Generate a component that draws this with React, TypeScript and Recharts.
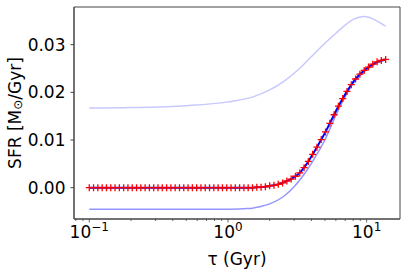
import React from 'react'
import { LineChart, Line, XAxis, YAxis, Label, ReferenceArea } from 'recharts'

// lookback time grid (Gyr), log spaced as in the figure
const tau = [
  0.1, 0.1074, 0.1153, 0.1239, 0.133, 0.1429, 0.1534, 0.1648, 0.177, 0.19,
  0.2041, 0.2192, 0.2353, 0.2528, 0.2714, 0.2915, 0.313, 0.3361, 0.361, 0.3877,
  0.4163, 0.4471, 0.4801, 0.5156, 0.5537, 0.5946, 0.6385, 0.6857, 0.7364, 0.7908,
  0.8493, 0.9122, 0.9797, 1.052, 1.13, 1.213, 1.303, 1.399, 1.503, 1.614,
  1.733, 1.861, 1.999, 2.147, 2.305, 2.476, 2.659, 2.855, 3.066, 3.293,
  3.537, 3.798, 4.079, 4.381, 4.704, 5.052, 5.426, 5.827, 6.257, 6.72,
  7.217, 7.75, 8.323, 8.939, 9.6, 10.31, 11.07, 11.89, 12.76, 13.71,
]

const sfrMedian = [
  0, 0, 0, 0, 0, 0, 0, 0, 0, 0,
  0, 0, 0, 0, 0, 0, 0, 0, 0, 0,
  0, 0, 0, 0, 0, 0, 0, 0, 0, 0,
  0, 0, 0, 0, 0, 0, 0, 0, 0, 0.0001,
  0.0001, 0.0002, 0.0004, 0.0005, 0.0007, 0.001, 0.0014, 0.0018, 0.0024, 0.0031,
  0.0042, 0.0055, 0.007, 0.0085, 0.0101, 0.0117, 0.0135, 0.0153, 0.0171, 0.0187,
  0.0202, 0.0216, 0.0228, 0.0238, 0.0246, 0.0253, 0.0259, 0.0264, 0.0267, 0.0269,
]

const upperTau = [0.1, 0.2, 0.5, 1, 1.5, 2, 2.5, 3, 3.5, 4, 4.5, 5, 6, 7, 8, 9, 9.5, 10.5, 12, 13.71]
const upperSfr = [0.0167, 0.0168, 0.0172, 0.018, 0.019, 0.0205, 0.0222, 0.024, 0.0258, 0.0275, 0.029, 0.0303, 0.0324, 0.0341, 0.0353, 0.0358, 0.0359, 0.0357, 0.0349, 0.0339]

const lowerTau = [0.1, 0.5, 1, 1.3, 1.5, 1.8, 2, 2.5, 3, 3.5, 4, 4.5, 5, 5.5, 6, 7, 8, 9, 10, 12, 13.71]
const lowerSfr = [-0.0045, -0.0045, -0.0045, -0.0044, -0.0043, -0.0038, -0.0034, -0.0019, 0.0002, 0.0026, 0.0051, 0.0076, 0.01, 0.0127, 0.0152, 0.0191, 0.0219, 0.0236, 0.0247, 0.0262, 0.0268]

const xMajorTicks = [0.1, 1, 10]
const xMinorTicks = [0.08, 0.09, 0.2, 0.3, 0.4, 0.5, 0.6, 0.7, 0.8, 0.9, 2, 3, 4, 5, 6, 7, 8, 9]
const yTicks = [0, 0.01, 0.02, 0.03]

const xDomain = [0.0776, 17.4]
const yDomain = [-0.00657, 0.0379]

const medianData = tau.map((t, i) => ({ tau: t, sfr: sfrMedian[i] }))
const upperData = upperTau.map((t, i) => ({ tau: t, sfr: upperSfr[i] }))
const lowerData = lowerTau.map((t, i) => ({ tau: t, sfr: lowerSfr[i] }))

const FONT = '"DejaVu Sans", sans-serif'
const SPINE = '#444'
const FS = 17

const PlusDot = (props: any) => {
  const { cx, cy, index } = props
  if (cx == null || cy == null) return null
  const s = 3.5
  return (
    <path
      key={'p' + index}
      d={`M${cx - s},${cy}H${cx + s}M${cx},${cy - s}V${cy + s}`}
      stroke="#ff0000"
      strokeWidth={1.3}
      fill="none"
    />
  )
}

const XTick = (props: any) => {
  const { x, y, payload } = props
  const v = payload.value
  const major = xMajorTicks.includes(v)
  const exp = Math.round(Math.log10(v))
  return (
    <g>
      <line x1={x} x2={x} y1={y} y2={y + (major ? 3.5 : 2)} stroke={SPINE} strokeWidth={0.8} />
      {major && (
        <text x={x} y={y + 19} textAnchor="middle" fontSize={FS} fill="#000" fontFamily={FONT}>
          10<tspan dy={-7} fontSize={12}>{exp < 0 ? '\u2212' + -exp : String(exp)}</tspan>
        </text>
      )}
    </g>
  )
}

export default function App() {
  return (
    <div style={{ position: 'absolute', left: 0, top: 0, width: 407, height: 272, background: '#fff' }}>
      <LineChart width={407} height={272} margin={{ top: 7, right: 7, bottom: 0, left: 0 }}>
        <XAxis
          dataKey="tau"
          type="number"
          scale="log"
          domain={xDomain}
          allowDataOverflow
          ticks={[...xMajorTicks, ...xMinorTicks]}
          interval={0}
          height={53}
          tickSize={0}
          tickMargin={0}
          tickLine={false}
          tick={<XTick />}
          stroke={SPINE}
        >
          <Label
            content={(p: any) => {
              const vb = p.viewBox
              return (
                <text x={vb.x + vb.width / 2} y={vb.y + 40} textAnchor="middle" dominantBaseline="central" fontSize={FS} fill="#000" fontFamily={FONT}>
                  τ (Gyr)
                </text>
              )
            }}
          />
        </XAxis>
        <YAxis
          type="number"
          domain={yDomain}
          allowDataOverflow
          ticks={yTicks}
          width={74}
          tickSize={3.5}
          tickMargin={5}
          tickFormatter={(v: number) => v.toFixed(2)}
          tick={{ fontSize: FS, fill: '#000', fontFamily: FONT }}
          stroke={SPINE}
        >
          <Label
            content={(p: any) => {
              const vb = p.viewBox
              const cx = vb.x + 15
              const cy = vb.y + vb.height / 2
              return (
                <text transform={`translate(${cx},${cy}) rotate(-90)`} textAnchor="middle" dominantBaseline="central" fontSize={FS} fill="#000" fontFamily={FONT}>
                  SFR [M<tspan fontSize={12} dy={3}>⊙</tspan><tspan dy={-3}>/Gyr]</tspan>
                </text>
              )
            }}
          />
        </YAxis>
        <ReferenceArea x1={xDomain[0]} x2={xDomain[1]} y1={yDomain[0]} y2={yDomain[1]} fill="none" fillOpacity={0} stroke={SPINE} strokeWidth={1} ifOverflow="visible" />
        <Line data={upperData} dataKey="sfr" type="monotone" stroke="#c8c8ff" strokeWidth={1.5} dot={false} isAnimationActive={false} />
        <Line data={lowerData} dataKey="sfr" type="monotone" stroke="#9595ff" strokeWidth={1.5} dot={false} isAnimationActive={false} />
        <Line data={medianData} dataKey="sfr" type="monotone" stroke="#0000ff" strokeWidth={2} dot={<PlusDot />} isAnimationActive={false} />
      </LineChart>
    </div>
  )
}
